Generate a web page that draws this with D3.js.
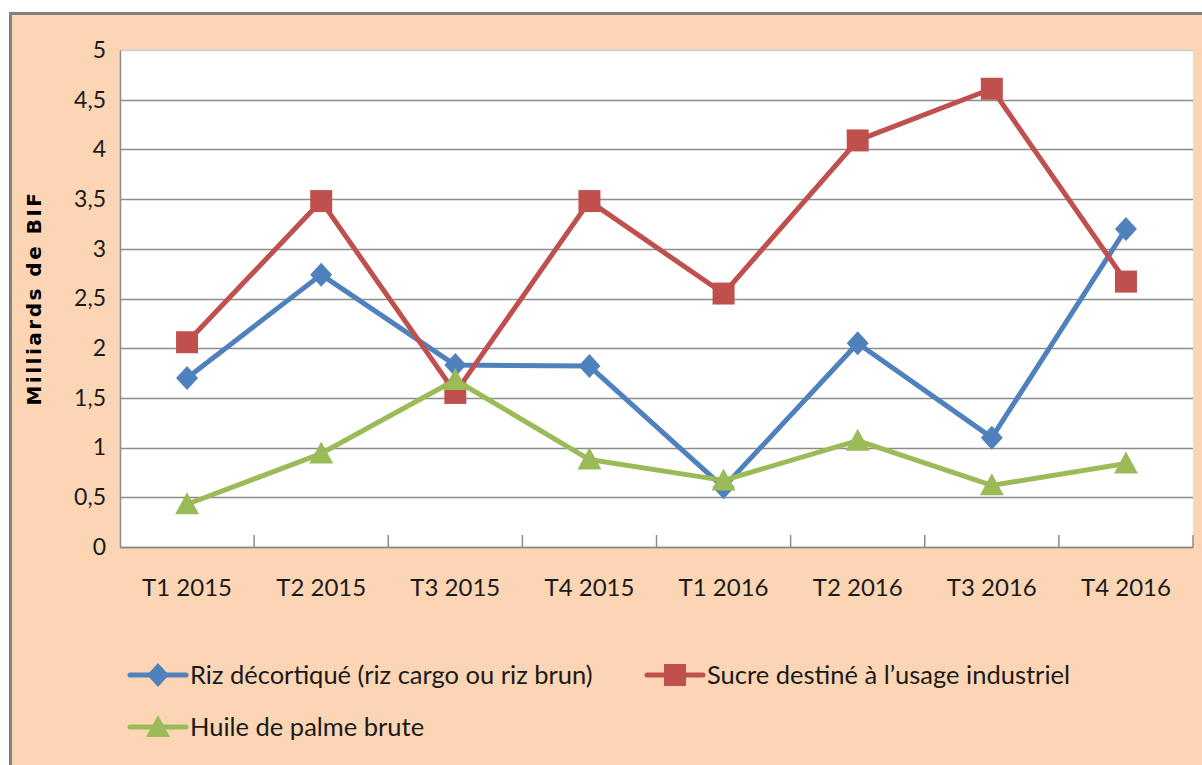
<!DOCTYPE html>
<html><head><meta charset="utf-8">
<script src="https://cdn.jsdelivr.net/npm/d3@7"></script>
<style>body{margin:0;background:#fff;}svg{display:block;}</style>
</head><body><div id="chart"></div>
<script>
const categories = ["T1 2015","T2 2015","T3 2015","T4 2015","T1 2016","T2 2016","T3 2016","T4 2016"];
const riz = [1.70, 2.74, 1.83, 1.82, 0.60, 2.05, 1.10, 3.20];
const sucre = [2.06, 3.48, 1.55, 3.48, 2.55, 4.09, 4.61, 2.67];
const huile = [0.43, 0.94, 1.68, 0.88, 0.67, 1.07, 0.62, 0.84];
const yTicks = [0, 0.5, 1, 1.5, 2, 2.5, 3, 3.5, 4, 4.5, 5];
const seriesNames = ["Riz décortiqué (riz cargo ou riz brun)", "Sucre destiné à l’usage industriel", "Huile de palme brute"];
const yTitle = "Milliards  de BIF";

const W = 1202, H = 765;
const font = "Lato, 'Open Sans', sans-serif";
const svg = d3.select("#chart").append("svg").attr("width", W).attr("height", H);
svg.append("rect").attr("x", 11).attr("y", 14).attr("width", W - 11).attr("height", H - 14).attr("fill", "#FCD5B5");
svg.append("line").attr("x1", 10).attr("x2", W).attr("y1", 13.5).attr("y2", 13.5).attr("stroke", "#808080").attr("stroke-width", 3);
svg.append("line").attr("x1", 10.5).attr("x2", 10.5).attr("y1", 12).attr("y2", H).attr("stroke", "#808080").attr("stroke-width", 3);

const L = 120, R = 1193, T = 50, B = 547;
svg.append("rect").attr("x", L).attr("y", T).attr("width", R - L).attr("height", B - T).attr("fill", "#fff");

const x = d3.scaleBand().domain(categories).range([L, R]);
const y = d3.scaleLinear().domain([0, 5]).range([B, T]);

// grid
svg.append("g").selectAll("line").data(yTicks).join("line")
  .attr("x1", L).attr("x2", R)
  .attr("y1", d => Math.round(y(d)) + 0.5).attr("y2", d => Math.round(y(d)) + 0.5)
  .attr("stroke", d => d === 5 ? "#c8ccd4" : "#8c8c8c").attr("stroke-width", 1.5);

// y axis
const yAxis = d3.axisLeft(y).tickValues(yTicks).tickSize(0).tickPadding(14)
  .tickFormat(d => String(d).replace(".", ","));
const ya = svg.append("g").attr("transform", `translate(${L},0)`).call(yAxis);
ya.select(".domain").attr("stroke", "#8c8c8c").attr("stroke-width", 1.5);
ya.selectAll("text").attr("font-family", font).attr("font-size", 23).attr("fill", "#1a1a1a");

// x axis
const xAxis = d3.axisBottom(x).tickSize(0).tickPadding(32);
const xa = svg.append("g").attr("transform", `translate(0,${B})`).call(xAxis);
xa.select(".domain").attr("stroke", "#8c8c8c").attr("stroke-width", 1.5);
xa.selectAll("text").attr("font-family", font).attr("font-size", 24).attr("fill", "#1a1a1a");
// inner ticks between categories
const bounds = categories.map(c => x(c) + x.bandwidth());
svg.append("g").selectAll("line").data(bounds).join("line")
  .attr("x1", d => d).attr("x2", d => d).attr("y1", B - 12).attr("y2", B)
  .attr("stroke", "#8c8c8c").attr("stroke-width", 1.5);

// y title
svg.append("text").attr("transform", "translate(34,298) rotate(-90)")
  .attr("text-anchor", "middle").attr("dy", "0.35em").attr("font-family", "'DejaVu Sans', sans-serif").attr("font-weight", "bold")
  .attr("font-size", 20).attr("letter-spacing", 2.5).attr("fill", "#000").text(yTitle);

const series = [
  {name: seriesNames[0], values: riz, color: "#4F81BD", shape: "diamond"},
  {name: seriesNames[1], values: sucre, color: "#C0504D", shape: "square"},
  {name: seriesNames[2], values: huile, color: "#9BBB59", shape: "triangle"}
];
const shapePath = s => s === "diamond" ? "M0,-12L11,0L0,12L-11,0Z"
  : s === "square" ? "M-11,-11H11V11H-11Z"
  : "M0,-12L12,10H-12Z";

const line = d3.line().x((d, i) => x(categories[i]) + x.bandwidth() / 2).y(d => y(d));
series.forEach(s => {
  svg.append("path").datum(s.values).attr("d", line).attr("fill", "none")
    .attr("stroke", s.color).attr("stroke-width", 5).attr("stroke-linejoin", "round");
  svg.append("g").selectAll("path").data(s.values).join("path")
    .attr("transform", (d, i) => `translate(${x(categories[i]) + x.bandwidth() / 2},${y(d)})`)
    .attr("d", shapePath(s.shape)).attr("fill", s.color);
});

// legend
const legendPos = [{x: 130, y: 675}, {x: 647, y: 675}, {x: 130, y: 727}];
series.forEach((s, i) => {
  const p = legendPos[i];
  const lg = svg.append("g").attr("transform", `translate(${p.x},${p.y})`);
  lg.append("line").attr("x1", 0).attr("x2", 56).attr("y1", 0).attr("y2", 0)
    .attr("stroke", s.color).attr("stroke-width", 5).attr("stroke-linecap", "round");
  lg.append("path").attr("transform", "translate(28,0)").attr("d", shapePath(s.shape)).attr("fill", s.color);
  lg.append("text").attr("x", 60).attr("y", 0).attr("dy", "0.35em")
    .attr("font-family", font).attr("font-size", 25.5).attr("fill", "#1a1a1a").text(s.name);
});
</script></body></html>
